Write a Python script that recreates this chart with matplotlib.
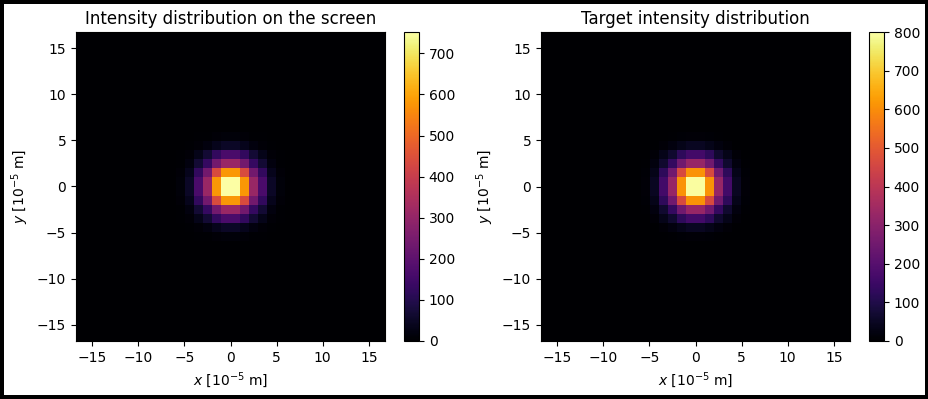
import numpy as np
import matplotlib
matplotlib.use("Agg")
import matplotlib.pyplot as plt

# one quadrant of each intensity map (cells counted outward from the centre),
# values; the rest of the 34x34 grid is ~0
screen_quadrant = [
    [750, 580, 310, 165, 50, 12],
    [580, 440, 240, 125, 38, 9],
    [310, 240, 130, 68, 20, 5],
    [165, 125, 68, 35, 11, 3],
    [50, 38, 20, 11, 3, 1],
    [12, 9, 5, 3, 1, 0],
]
target_quadrant = [
    [795, 610, 325, 165, 48, 11],
    [610, 465, 250, 128, 37, 8],
    [325, 250, 135, 68, 20, 4],
    [165, 128, 68, 35, 10, 2],
    [48, 37, 20, 10, 3, 1],
    [11, 8, 4, 2, 1, 0],
]
n_cells = 34
half_width = 16.75  # 10^-5 m
screen_max = 752
target_max = 800
ticks = [-15, -10, -5, 0, 5, 10, 15]


def full_map(quadrant):
    q = np.array(quadrant, dtype=float)
    grid = np.zeros((n_cells, n_cells))
    h = n_cells // 2
    k = q.shape[0]
    grid[h:h + k, h:h + k] = q
    grid[h - k:h, h:h + k] = q[::-1, :]
    grid[h:h + k, h - k:h] = q[:, ::-1]
    grid[h - k:h, h - k:h] = q[::-1, ::-1]
    return grid


W, H = 929, 399
fig = plt.figure(figsize=(W / 100, H / 100), dpi=100)
fig.patch.set_edgecolor("black")
fig.patch.set_linewidth(4.5)

panels = [
    (76, 404, full_map(screen_quadrant), screen_max,
     "Intensity distribution on the screen", range(0, 701, 100)),
    (541, 869, full_map(target_quadrant), target_max,
     "Target intensity distribution", range(0, 801, 100)),
]
for ax_x, cb_x, data, vmax, title, cticks in panels:
    ax = fig.add_axes([ax_x / W, (H - 341) / H, 309 / W, 309 / H])
    cax = fig.add_axes([cb_x / W, (H - 341) / H, 15 / W, 309 / H])
    im = ax.imshow(data, cmap="inferno", origin="lower", vmin=0, vmax=vmax,
                   extent=[-half_width, half_width, -half_width, half_width],
                   interpolation="nearest")
    ax.set_xticks(ticks)
    ax.set_yticks(ticks)
    ax.set_title(title)
    ax.set_xlabel(r"$x$ [10$^{-5}$ m]")
    ax.set_ylabel(r"$y$ [10$^{-5}$ m]")
    cb = fig.colorbar(im, cax=cax)
    cb.set_ticks(list(cticks))

fig.savefig("out.png", dpi=100)
